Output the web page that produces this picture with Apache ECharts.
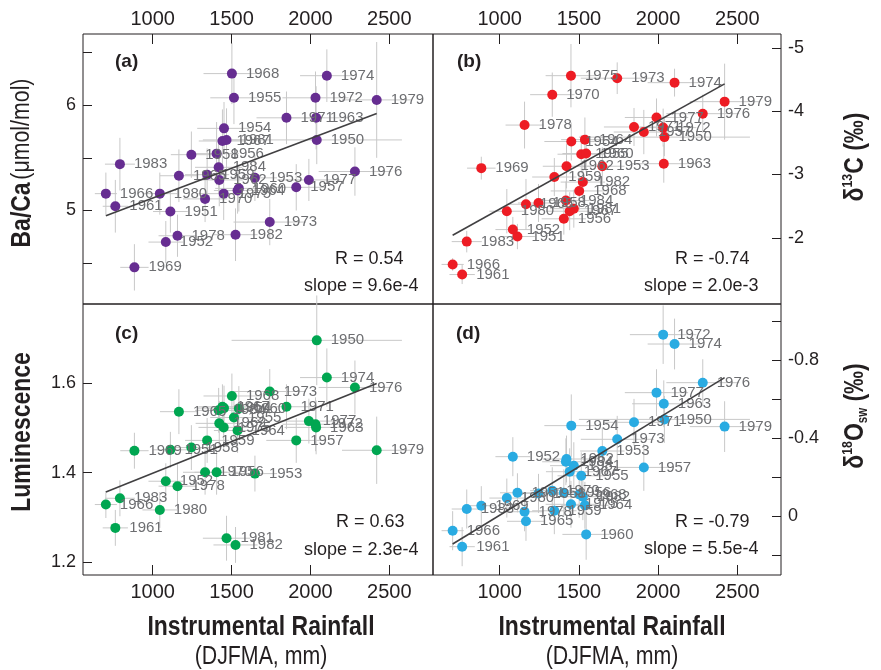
<!DOCTYPE html>
<html>
<head>
<meta charset="utf-8">
<script src="https://cdn.jsdelivr.net/npm/echarts@6/dist/echarts.min.js"></script>
<style>
  html, body { margin: 0; padding: 0; background: #fff; }
  #chart { width: 881px; height: 670px; }
</style>
</head>
<body>
<div id="chart"></div>
<script>
// years shared by all four panels
var years = [1950, 1951, 1952, 1953, 1954, 1955, 1956, 1957, 1958, 1959,
  1960, 1961, 1962, 1963, 1964, 1965, 1966, 1967, 1968, 1969,
  1970, 1971, 1972, 1973, 1974, 1975, 1976, 1977, 1978, 1979,
  1980, 1981, 1982, 1983, 1984]
// instrumental rainfall DJFMA (mm) and its error
var rain = [2040, 1112, 1083, 1648, 1452, 1515, 1405, 1910, 1245, 1345,
  1546, 763, 1422, 2036, 1538, 1166, 703, 1442, 1502, 884,
  1332, 1848, 2032, 1742, 2104, 1450, 2282, 1990, 1157, 2420,
  1045, 1468, 1525, 792, 1418]
var rainErr = [540, 110, 110, 140, 170, 150, 140, 190, 130, 140,
  150, 80, 150, 200, 150, 120, 70, 150, 180, 90,
  140, 190, 210, 230, 170, 160, 230, 200, 120, 220,
  110, 150, 140, 95, 150]
// (a) Ba/Ca
var baCa = [5.67, 4.99, 4.70, 5.31, 5.78, 6.07, 5.54, 5.22, 5.53, 5.34,
  5.21, 5.04, 5.29, 5.88, 5.19, 5.33, 5.16, 5.66, 6.30, 4.46,
  5.11, 5.88, 6.07, 4.89, 6.28, 5.16, 5.37, 5.29, 4.76, 6.05,
  5.16, 5.67, 4.77, 5.44, 5.41]
var baCaErr = [0.23, 0.2, 0.2, 0.22, 0.25, 0.25, 0.3, 0.22, 0.22, 0.25,
  0.22, 0.25, 0.25, 0.3, 0.22, 0.25, 0.2, 0.3, 0.29, 0.22,
  0.22, 0.25, 0.25, 0.22, 0.25, 0.25, 0.23, 0.2, 0.2, 0.55,
  0.2, 0.3, 0.25, 0.25, 0.25]
// (b) d13C
var d13C = [-3.59, -2.02, -2.13, -3.13, -3.52, -3.32, -2.30, -3.67, -2.55, -2.96,
  -3.33, -1.42, -3.13, -3.17, -3.55, -2.53, -1.58, -2.42, -2.74, -3.10,
  -4.26, -3.75, -3.74, -4.52, -4.45, -4.56, -3.96, -3.90, -3.78, -4.15,
  -2.42, -2.46, -2.88, -1.94, -2.59]
var d13CErr = [0.3, 0.2, 0.2, 0.3, 0.3, 0.3, 0.25, 0.35, 0.3, 0.3,
  0.3, 0.15, 0.35, 0.3, 0.35, 0.4, 0.1, 0.3, 0.3, 0.18,
  0.35, 0.3, 0.3, 0.25, 0.22, 0.5, 0.3, 0.3, 0.37, 0.6,
  0.35, 0.3, 0.3, 0.17, 0.3]
// (c) luminescence
var lum = [1.695, 1.451, 1.381, 1.398, 1.544, 1.523, 1.401, 1.472, 1.456, 1.472,
  1.543, 1.277, 1.510, 1.501, 1.494, 1.536, 1.329, 1.547, 1.571, 1.449,
  1.401, 1.547, 1.508, 1.581, 1.612, 1.501, 1.590, 1.515, 1.370, 1.450,
  1.317, 1.254, 1.239, 1.343, 1.539]
var lumErr = [0.1, 0.04, 0.04, 0.04, 0.05, 0.05, 0.05, 0.05, 0.05, 0.05,
  0.05, 0.04, 0.05, 0.06, 0.05, 0.05, 0.03, 0.05, 0.05, 0.04,
  0.05, 0.05, 0.06, 0.05, 0.065, 0.05, 0.06, 0.05, 0.05, 0.075,
  0.04, 0.05, 0.04, 0.04, 0.05]
// (d) d18O seawater
var d18O = [-0.495, -0.119, -0.304, -0.333, -0.463, -0.206, -0.119, -0.249, -0.116, -0.027,
  0.094, 0.157, -0.292, -0.575, -0.055, 0.027, 0.075, -0.227, -0.111, -0.053,
  -0.130, -0.480, -0.929, -0.393, -0.881, -0.060, -0.683, -0.632, -0.022, -0.458,
  -0.092, -0.258, -0.099, -0.036, -0.278]
var d18OErr = [0.12, 0.1, 0.1, 0.12, 0.16, 0.12, 0.12, 0.12, 0.1, 0.12,
  0.13, 0.1, 0.12, 0.12, 0.12, 0.1, 0.1, 0.12, 0.12, 0.1,
  0.12, 0.12, 0.15, 0.12, 0.13, 0.12, 0.12, 0.12, 0.1, 0.13,
  0.1, 0.12, 0.12, 0.1, 0.12]

// regression lines (end points)
var fitX = [703, 2420]
var fitA = [4.95, 5.92]
var fitB = [-2.04, -4.43]
var fitC = [1.357, 1.599]
var fitD = [0.143, -0.709]

var panelTags = ['(a)', '(b)', '(c)', '(d)']
var rText = ['0.54', '-0.74', '0.63', '-0.79']
var slopeText = ['9.6e-4', '2.0e-3', '2.3e-4', '5.5e-4']

var xTicks = [1000, 1500, 2000, 2500]

var ink = '#231f20'
var plain = "'Liberation Sans', Arial, sans-serif"
var colors = ['#662d91', '#ed1c24', '#00a651', '#29abe2']
// Liberation Sans squeezed horizontally stands in for Helvetica Narrow
var squeeze = 0.82

function rows(ys, errs) {
  return years.map(function (yr, i) {
    return [rain[i], ys[i], rainErr[i], errs[i], yr]
  })
}

function errBars(gi, ys, errs) {
  return {
    type: 'custom',
    xAxisIndex: gi,
    yAxisIndex: gi,
    silent: true,
    clip: false,
    z: 1,
    encode: { x: 0, y: 1 },
    renderItem: function (params, api) {
      var x = api.value(0), y = api.value(1), ex = api.value(2), ey = api.value(3)
      var l = api.coord([x - ex, y]), r = api.coord([x + ex, y])
      var t = api.coord([x, y - ey]), b = api.coord([x, y + ey])
      var st = { stroke: '#c8c8c8', lineWidth: 1 }
      return {
        type: 'group',
        children: [
          { type: 'line', shape: { x1: l[0], y1: l[1], x2: r[0], y2: r[1] }, style: st },
          { type: 'line', shape: { x1: t[0], y1: t[1], x2: b[0], y2: b[1] }, style: st }
        ]
      }
    },
    data: rows(ys, errs)
  }
}

function points(gi, ys, errs) {
  return {
    type: 'scatter',
    xAxisIndex: gi,
    yAxisIndex: gi,
    symbolSize: 10,
    z: 3,
    itemStyle: { color: colors[gi], opacity: 1 },
    label: {
      show: true,
      position: 'right',
      distance: 9,
      formatter: function (p) { return p.data[4] },
      color: '#6d6e71',
      fontSize: 15,
      fontFamily: plain
    },
    data: rows(ys, errs)
  }
}

function fitLine(gi, ys) {
  return {
    type: 'line',
    xAxisIndex: gi,
    yAxisIndex: gi,
    symbol: 'none',
    z: 4,
    silent: true,
    lineStyle: { color: '#414042', width: 1.6 },
    data: fitX.map(function (x, i) { return [x, ys[i]] })
  }
}

function xAx(gi, min, max, pos) {
  return {
    type: 'value', gridIndex: gi, min: min, max: max, position: pos,
    axisLine: { show: false, onZero: false },
    splitLine: { show: false },
    axisTick: { inside: true, length: 10, lineStyle: { color: ink }, customValues: xTicks },
    axisLabel: {
      customValues: xTicks, margin: pos === 'top' ? 5 : 7, fontSize: 20,
      fontFamily: plain, color: ink,
      formatter: function (v) { return String(v) }
    }
  }
}

function yAx(gi, min, max, pos, inv, ticks, labels) {
  return {
    type: 'value', gridIndex: gi, min: min, max: max, position: pos, inverse: inv,
    axisLine: { show: false, onZero: false },
    splitLine: { show: false },
    axisTick: { inside: true, length: 9, lineStyle: { color: ink }, customValues: ticks },
    axisLabel: {
      customValues: labels, margin: 7, fontSize: 18, fontFamily: plain, color: ink,
      formatter: function (v) { return String(Math.round(v * 10) / 10) }
    }
  }
}

var richTitle = {
  b: { fontSize: 28, fontWeight: 'bold', fontFamily: plain, fill: ink, lineHeight: 30 },
  r: { fontSize: 26, fontFamily: plain, fill: ink, lineHeight: 30 },
  sup: { fontSize: 15, fontWeight: 'bold', fontFamily: plain, fill: ink, verticalAlign: 'top', lineHeight: 30 },
  sub: { fontSize: 14, fontWeight: 'bold', fontFamily: plain, fill: ink, verticalAlign: 'bottom', lineHeight: 30 }
}

function title(text, x, y, rot) {
  return {
    type: 'text', x: x, y: y, rotation: rot, scaleX: squeeze,
    style: { text: text, rich: richTitle, align: 'center', verticalAlign: 'middle' }
  }
}

// axis titles
var titles = [
  ['{b|Instrumental Rainfall}\n{r|(DJFMA, mm)}', 261, 642, 0],
  ['{b|Instrumental Rainfall}\n{r|(DJFMA, mm)}', 612, 642, 0],
  ['{b|Ba/Ca} {r|(μmol/mol)}', 22, 163, Math.PI / 2],
  ['{b|Luminescence}', 22, 432, Math.PI / 2],
  ['{b|δ}{sup|13}{b|C (‰)}', 855, 157, Math.PI / 2],
  ['{b|δ}{sup|18}{b|O}{sub|sw}{b| (‰)}', 855, 416, Math.PI / 2]
]

// text annotations: tag, R and slope for each panel
var tagPos = [[115, 52], [457, 52], [115, 324], [456, 324]]
var rPos = [[335, 250], [675, 250], [336, 513], [675, 513]]
var sPos = [[304, 277], [644, 277], [304, 541], [644, 540]]
var graphics = titles.map(function (t) { return title(t[0], t[1], t[2], t[3]) })
panelTags.forEach(function (t, i) {
  graphics.push({ type: 'text', left: tagPos[i][0], top: tagPos[i][1],
    style: { text: t, font: 'bold 19px ' + plain, fill: ink } })
  graphics.push({ type: 'text', left: rPos[i][0], top: rPos[i][1],
    style: { text: 'R = ' + rText[i], font: '18px ' + plain, fill: ink } })
  graphics.push({ type: 'text', left: sPos[i][0], top: sPos[i][1],
    style: { text: 'slope = ' + slopeText[i], font: '18px ' + plain, fill: ink } })
})

var chart = echarts.init(document.getElementById('chart'), null, { renderer: 'canvas' })
chart.setOption({
  backgroundColor: '#ffffff',
  animation: false,
  grid: [
    { left: 83, top: 34, width: 350, height: 270, show: true, borderColor: ink, borderWidth: 1 },
    { left: 433, top: 34, width: 348, height: 270, show: true, borderColor: ink, borderWidth: 1 },
    { left: 83, top: 304, width: 350, height: 271, show: true, borderColor: ink, borderWidth: 1 },
    { left: 433, top: 304, width: 348, height: 271, show: true, borderColor: ink, borderWidth: 1 }
  ],
  xAxis: [
    xAx(0, 558, 2777, 'top'),
    xAx(1, 579, 2776, 'top'),
    xAx(2, 558, 2777, 'bottom'),
    xAx(3, 579, 2776, 'bottom')
  ],
  yAxis: [
    yAx(0, 4.112, 6.676, 'left', false, [4.5, 5, 5.5, 6, 6.5], [5, 6]),
    yAx(1, -5.218, -0.955, 'right', true, [-5, -4, -3, -2], [-5, -4, -3, -2]),
    yAx(2, 1.172, 1.776, 'left', false, [1.2, 1.4, 1.6], [1.2, 1.4, 1.6]),
    yAx(3, -1.086, 0.302, 'right', true, [-1, -0.8, -0.6, -0.4, -0.2, 0, 0.2], [-0.8, -0.4, 0])
  ],
  graphic: graphics,
  series: [
    errBars(0, baCa, baCaErr), errBars(1, d13C, d13CErr),
    errBars(2, lum, lumErr), errBars(3, d18O, d18OErr),
    fitLine(0, fitA), fitLine(1, fitB), fitLine(2, fitC), fitLine(3, fitD),
    points(0, baCa, baCaErr), points(1, d13C, d13CErr),
    points(2, lum, lumErr), points(3, d18O, d18OErr)
  ]
})
</script>
</body>
</html>
